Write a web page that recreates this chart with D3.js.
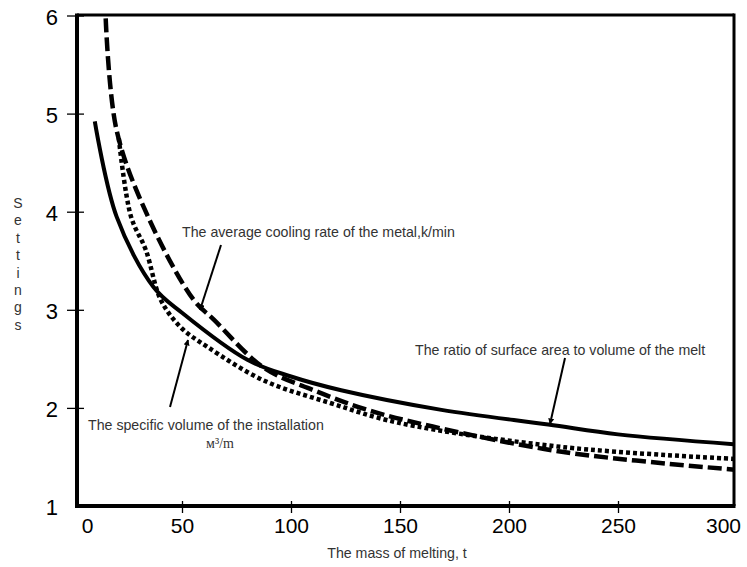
<!DOCTYPE html>
<html><head><meta charset="utf-8">
<script src="https://cdn.jsdelivr.net/npm/d3@7"></script>
<style>
body{margin:0;background:#fff;}
svg{display:block;font-family:"Liberation Sans",Arial,sans-serif;}
</style></head>
<body><svg id="c" width="747" height="567"></svg>
<script>
const xTicks = [0, 50, 100, 150, 200, 250, 300];
const yTicks = [1, 2, 3, 4, 5, 6];
const ratioSeries = [[10,4.92],[20,3.95],[37,3.23],[50,2.97],[80,2.49],[100,2.32],[123,2.18],[169,1.98],[218,1.83],[250,1.73],[303,1.63]];
const coolingSeries = [[15,5.97],[20,4.83],[34.4,3.95],[55.4,3.10],[64.6,2.90],[87.5,2.41],[110.4,2.18],[135,1.98],[165,1.81],[225,1.55],[303.5,1.37]];
const volumeSeries = [[21,4.75],[26.6,3.95],[33.4,3.61],[40.3,3.10],[49.5,2.82],[61.8,2.62],[87.5,2.28],[118,2.05],[149,1.85],[225,1.60],[303.5,1.48]];
const yLabel = "Settings";
const xLabel = "The mass of melting, t";

const svg = d3.select("#c");
const x = d3.scaleLinear().domain([0, 300]).range([73, 727]);
const y = d3.scaleLinear().domain([1, 6]).range([506, 15.5]);

// frame
const L = 77, R = 734, T = 15, B = 506;
svg.append("line").attr("x1",L).attr("x2",R).attr("y1",T).attr("y2",T).attr("stroke","#000").attr("stroke-width",3);
svg.append("line").attr("x1",R).attr("x2",R).attr("y1",T-1.5).attr("y2",B).attr("stroke","#000").attr("stroke-width",3);

// y axis
const ya = svg.append("g").attr("transform",`translate(${L},0)`).call(d3.axisLeft(y).tickValues(yTicks).tickFormat(d3.format("d")).tickSizeOuter(0));
ya.select(".domain").attr("stroke-width",4).attr("d",`M0,${T-1.5}V${B+2}`);
ya.selectAll(".tick line").attr("x1",-10).attr("x2",7).attr("stroke-width",1.3);
ya.selectAll(".tick text").attr("x",-19).attr("dy","0.4em").style("font-size","22px").style("font-family","Liberation Sans, Arial, sans-serif").attr("fill","#000");
ya.selectAll(".tick").filter(d=>d===1).select("line").remove();

// x axis
const xa = svg.append("g").attr("transform",`translate(0,${B})`).call(d3.axisBottom(x).tickValues(xTicks).tickFormat(d3.format("d")).tickSizeOuter(0));
xa.select(".domain").attr("stroke-width",4).attr("d",`M${L-2},0H${R+1.5}`);
xa.selectAll(".tick line").attr("y1",-5).attr("y2",7).attr("stroke-width",1.3);
xa.selectAll(".tick").filter(d=>d===0||d===300).select("line").remove();
xa.selectAll(".tick text").attr("y",12).attr("dy","0.71em").style("font-size","21px").style("font-family","Liberation Sans, Arial, sans-serif").attr("fill","#000");
xa.selectAll(".tick").filter(d=>d===0).select("text").attr("dx",14);
xa.selectAll(".tick").filter(d=>d===300).select("text").attr("dx",-4);

// axis titles
const yl = svg.append("text").attr("fill","#333").style("font-size","14px").attr("text-anchor","middle");
yLabel.split("").forEach((ch,i)=>{
  yl.append("tspan").attr("x",18).attr("y",208+i*17.4).text(ch);
});
svg.append("text").attr("x",397).attr("y",558).attr("text-anchor","middle").attr("fill","#333").style("font-size","14.2px").text(xLabel);

// curves
const line = d3.line().x(d=>x(d[0])).y(d=>y(d[1])).curve(d3.curveCatmullRom.alpha(0.5));
svg.append("path").datum(ratioSeries).attr("d",line).attr("fill","none").attr("stroke","#000").attr("stroke-width",4);
svg.append("path").datum(coolingSeries).attr("d",line).attr("fill","none").attr("stroke","#000").attr("stroke-width",4.5).attr("stroke-dasharray","14,5");
svg.append("path").datum(volumeSeries).attr("d",line).attr("fill","none").attr("stroke","#000").attr("stroke-width",4.5).attr("stroke-dasharray","4,3");

// annotations
const defs = svg.append("defs");
defs.append("marker").attr("id","ah").attr("viewBox","0 0 10 10").attr("refX",9).attr("refY",5)
  .attr("markerWidth",6).attr("markerHeight",6).attr("markerUnits","userSpaceOnUse").attr("orient","auto")
  .append("path").attr("d","M0,0L10,5L0,10z").attr("fill","#000");
function arrow(x1,y1,x2,y2){
  svg.append("line").attr("x1",x1).attr("y1",y1).attr("x2",x2).attr("y2",y2).attr("stroke","#000").attr("stroke-width",2).attr("marker-end","url(#ah)");
}
const ann = [
  {t:"The average cooling rate of the metal,k/min", x:182, y:237},
  {t:"The specific volume of the installation", x:88, y:430},
  {t:"The ratio of surface area to volume of the melt", x:415, y:355}
];
ann.forEach(a=>svg.append("text").attr("x",a.x).attr("y",a.y).attr("fill","#333").style("font-size","14.2px").text(a.t));
svg.append("text").attr("x",220).attr("y",448).attr("text-anchor","middle").attr("fill","#333")
  .style("font-family","Liberation Serif, Times New Roman, serif").style("font-size","14px").text("м³/m");
arrow(221,245,200,310);
arrow(170,407,188,340);
arrow(565,358,550,424);
</script></body></html>
